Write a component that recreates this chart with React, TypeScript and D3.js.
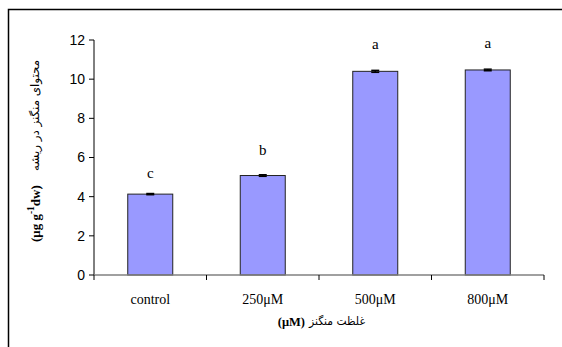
import React from "react";
import * as d3 from "d3";

// Mn content per treatment
const categories = ["control", "250μM", "500μM", "800μM"];
const values = [4.13, 5.08, 10.4, 10.47];
const errors = [0.03, 0.04, 0.05, 0.04];
const letters = ["c", "b", "a", "a"];
const yTicks = [0, 2, 4, 6, 8, 10, 12];

// vertical gap (px) between each bar top and its significance letter
const letterGap = [16, 21, 22, 22];

const W = 562;
const H = 347;
const plot = { left: 94, right: 544, top: 40, bottom: 275 };

export default function App() {
  const x = d3
    .scaleBand<string>()
    .domain(categories)
    .range([plot.left, plot.right])
    .paddingInner(0.6)
    .paddingOuter(0.3);
  const y = d3.scaleLinear().domain([0, 12]).range([plot.bottom, plot.top]);
  const step = x.step();
  const boundaries = d3.range(categories.length + 1).map((i) => plot.left + i * step);

  return (
    <svg
      width={W}
      height={H}
      style={{ position: "absolute", left: 0, top: 0, background: "#fff" }}
    >
      {/* outer frame */}
      <path d={`M8.5,${H} V9.5 H${W + 2}`} fill="none" stroke="#000" strokeWidth={1.5} />

      {/* bars */}
      {values.map((v, i) => (
        <rect
          key={i}
          x={x(categories[i])}
          y={y(v)}
          width={x.bandwidth()}
          height={y(0) - y(v)}
          fill="#9999ff"
          stroke="#222"
          strokeWidth={1}
        />
      ))}

      {/* error bars */}
      {values.map((v, i) => {
        const cx = (x(categories[i]) as number) + x.bandwidth() / 2;
        return (
          <g key={i} stroke="#000" strokeWidth={1.5}>
            <line x1={cx} x2={cx} y1={y(v + errors[i])} y2={y(v - errors[i])} />
            <line x1={cx - 4} x2={cx + 4} y1={y(v + errors[i])} y2={y(v + errors[i])} />
            <line x1={cx - 4} x2={cx + 4} y1={y(v - errors[i])} y2={y(v - errors[i])} />
          </g>
        );
      })}

      {/* significance letters */}
      {values.map((v, i) => {
        const cx = (x(categories[i]) as number) + x.bandwidth() / 2;
        return (
          <text
            key={i}
            x={cx}
            y={y(v) - letterGap[i]}
            textAnchor="middle"
            fontFamily="Liberation Serif, Times New Roman, serif"
            fontSize={15}
            fill="#000"
          >
            {letters[i]}
          </text>
        );
      })}

      {/* y axis */}
      <line x1={plot.left} x2={plot.left} y1={plot.top} y2={plot.bottom} stroke="#000" strokeWidth={1} />
      {yTicks.map((t) => (
        <g key={t}>
          <line x1={plot.left - 5} x2={plot.left} y1={y(t)} y2={y(t)} stroke="#000" />
          <text
            x={plot.left - 9}
            y={y(t)}
            dy="0.35em"
            textAnchor="end"
            fontFamily="Liberation Sans, Arial, sans-serif"
            fontSize={14}
            fill="#000"
          >
            {t}
          </text>
        </g>
      ))}

      {/* x axis */}
      <line x1={plot.left} x2={plot.right} y1={plot.bottom} y2={plot.bottom} stroke="#808080" strokeWidth={1.5} />
      {boundaries.map((bx, i) => (
        <line key={i} x1={bx} x2={bx} y1={plot.bottom} y2={plot.bottom + 5} stroke="#000" />
      ))}
      {categories.map((c) => (
        <text
          key={c}
          x={(x(c) as number) + x.bandwidth() / 2}
          y={304}
          textAnchor="middle"
          fontFamily="Liberation Serif, Times New Roman, serif"
          fontSize={14}
          fill="#000"
        >
          {c}
        </text>
      ))}

      {/* x title */}
      <text
        x={305}
        y={326}
        textAnchor="end"
        fontFamily="Liberation Serif, Times New Roman, serif"
        fontSize={12.5}
        fontWeight="bold"
        fill="#000"
      >
        (μM)
      </text>
      <text
        x={309}
        y={325}
        textAnchor="start"
        textLength={56}
        lengthAdjust="spacingAndGlyphs"
        fontFamily="DejaVu Sans, sans-serif"
        fontSize={11.5}
        fill="#000"
      >
        غلظت منگنز
      </text>

      {/* y title */}
      <g transform="translate(40,242) rotate(-90)">
        <text
          x={0}
          y={0}
          textAnchor="start"
          fontFamily="Liberation Serif, Times New Roman, serif"
          fontSize={13}
          fontWeight="bold"
          fill="#000"
        >
          (μg g<tspan dy={-6} fontSize={9.5}>-1</tspan>
          <tspan dy={6}>dw)</tspan>
        </text>
        <text
          x={71}
          y={-1}
          textAnchor="start"
          textLength={111}
          lengthAdjust="spacingAndGlyphs"
          fontFamily="DejaVu Sans, sans-serif"
          fontSize={11.5}
          fill="#000"
        >
          محتوای منگنز در ریشه
        </text>
      </g>
    </svg>
  );
}
